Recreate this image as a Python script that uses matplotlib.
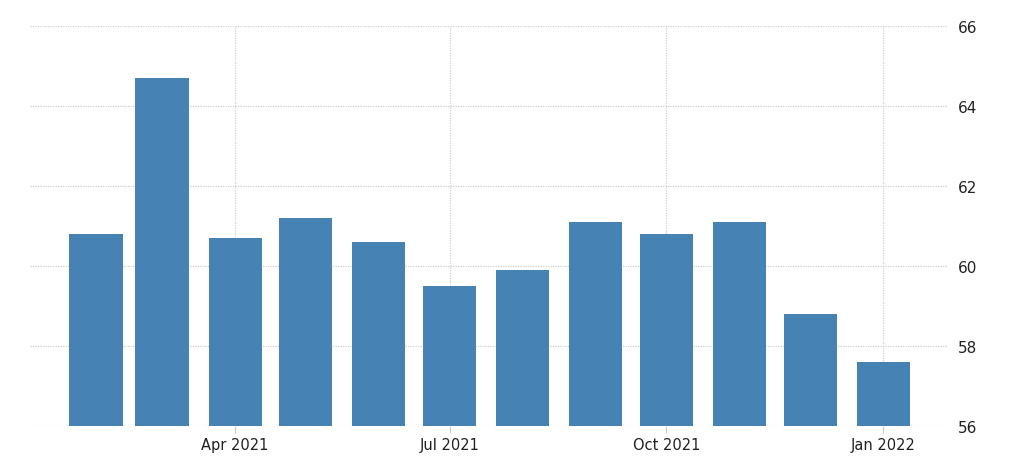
import numpy as np
import matplotlib.pyplot as plt
import matplotlib.dates as mdates

months = ["2021-02-01", "2021-03-01", "2021-04-01", "2021-05-01", "2021-06-01", "2021-07-01",
          "2021-08-01", "2021-09-01", "2021-10-01", "2021-11-01", "2021-12-01", "2022-01-01"]
values = [60.8, 64.7, 60.7, 61.2, 60.6, 59.5, 59.9, 61.1, 60.8, 61.1, 58.8, 57.6]
tick_dates = ["2021-04-01", "2021-07-01", "2021-10-01", "2022-01-01"]
tick_labels = ["Apr 2021", "Jul 2021", "Oct 2021", "Jan 2022"]
yticks = [56, 58, 60, 62, 64, 66]

fig = plt.figure(figsize=(10.24, 4.77), dpi=100)
ax = fig.add_axes([0.0293, 0.1048, 0.8955, 0.8386])

x = mdates.datestr2num(months)
ax.bar(x, np.array(values) - 56, bottom=56, width=22.5, color="#4682b4", zorder=3)

ax.set_xlim(mdates.datestr2num("2021-01-04"), mdates.datestr2num("2022-01-28"))
ax.set_ylim(56, 66)
ax.set_yticks(yticks)
ax.yaxis.tick_right()
ax.tick_params(axis="y", length=0, pad=8, labelsize=11, labelcolor="#222222")

ax.set_xticks(mdates.datestr2num(tick_dates))
ax.set_xticklabels(tick_labels)
ax.tick_params(axis="x", length=5, color="#cccccc", pad=3, labelsize=10.5, labelcolor="#222222")

ax.grid(True, color="#cfcfcf", linestyle=(0, (1, 1)), linewidth=0.9, zorder=0)
for s in ax.spines.values():
    s.set_visible(False)

fig.savefig("out.png", dpi=100)
